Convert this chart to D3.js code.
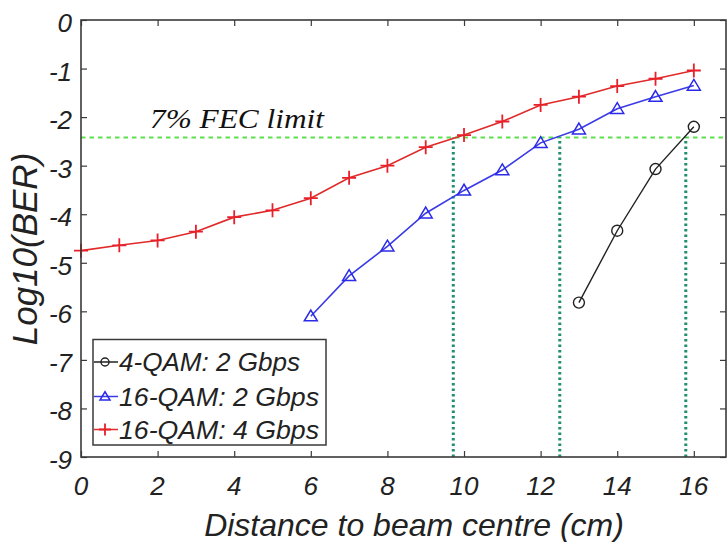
<!DOCTYPE html>
<html>
<head>
<meta charset="utf-8">
<script src="https://cdn.jsdelivr.net/npm/d3@7"></script>
<style>
  html, body { margin: 0; padding: 0; background: #fff; }
  svg { display: block; }
</style>
</head>
<body>
<svg id="chart" width="727" height="542"></svg>
<script>
// Distance from the beam centre (cm) for each measured point
const distRed = [0, 1, 2, 3, 4, 5, 6, 7, 8, 9, 10, 11, 12, 13, 14, 15, 16];
const distBlue = [6, 7, 8, 9, 10, 11, 12, 13, 14, 15, 16];
const distBlack = [13, 14, 15, 16];

// log10(BER) per series
const ber16qam4g = [-4.75, -4.64, -4.54, -4.36, -4.06, -3.92, -3.67, -3.25, -3.0, -2.62, -2.37, -2.09, -1.75, -1.58, -1.36, -1.21, -1.04];
const ber16qam2g = [-6.1, -5.27, -4.66, -3.98, -3.51, -3.09, -2.53, -2.25, -1.83, -1.58, -1.35];
const ber4qam2g = [-5.82, -4.34, -3.07, -2.2];

const seriesNames = ["4-QAM: 2 Gbps", "16-QAM: 2 Gbps", "16-QAM: 4 Gbps"];

// Forward-error-correction threshold and the distances where each curve crosses it
const fecLimit = -2.42;
const fecCrossings = [9.72, 12.5, 15.79];

const xTicks = [0, 2, 4, 6, 8, 10, 12, 14, 16];
const yTicks = [0, -1, -2, -3, -4, -5, -6, -7, -8, -9];

const svg = d3.select("#chart");
const plotL = 81, plotR = 726, plotT = 20, plotB = 457;

const x = d3.scaleLinear().domain([0, 16.84]).range([plotL, plotR]);
const y = d3.scaleLinear().domain([-9, 0]).range([plotB, plotT]);

const axisColor = "#3a3a3a";
const tickFont = "Liberation Sans, Arial, sans-serif";

// FEC threshold (horizontal dashed line)
svg.append("line")
  .attr("x1", x(0)).attr("x2", plotR)
  .attr("y1", y(fecLimit)).attr("y2", y(fecLimit))
  .attr("stroke", "#5ee04e").attr("stroke-width", 2)
  .attr("stroke-dasharray", "4.5,4");

// Vertical dotted markers at the FEC crossings
svg.selectAll(".vline").data(fecCrossings).enter().append("line")
  .attr("class", "vline")
  .attr("x1", d => x(d)).attr("x2", d => x(d))
  .attr("y1", y(-9)).attr("y2", y(fecLimit))
  .attr("stroke", "#1f8f70").attr("stroke-width", 3)
  .attr("stroke-dasharray", "2.5,3");

svg.append("text")
  .attr("x", 150).attr("y", 128)
  .attr("font-family", "Liberation Serif, Times New Roman, serif")
  .attr("font-style", "italic")
  .attr("font-size", 27)
  .attr("fill", "#111")
  .attr("textLength", 174)
  .attr("lengthAdjust", "spacingAndGlyphs")
  .text("7% FEC limit");

// Series
const line = d3.line().x(d => x(d[0])).y(d => y(d[1]));

const red = d3.zip(distRed, ber16qam4g);
const blue = d3.zip(distBlue, ber16qam2g);
const black = d3.zip(distBlack, ber4qam2g);

svg.append("path").datum(red).attr("d", line)
  .attr("fill", "none").attr("stroke", "#e02a2a").attr("stroke-width", 1.6);
svg.append("path").datum(blue).attr("d", line)
  .attr("fill", "none").attr("stroke", "#3a3ae8").attr("stroke-width", 1.6);
svg.append("path").datum(black).attr("d", line)
  .attr("fill", "none").attr("stroke", "#222").attr("stroke-width", 1.4);

function plus(g, cx, cy, s, color) {
  g.append("path")
    .attr("d", `M${cx - s},${cy}H${cx + s}M${cx},${cy - s}V${cy + s}`)
    .attr("stroke", color).attr("stroke-width", 1.8).attr("fill", "none");
}
function tri(g, cx, cy, s, color) {
  const h = s * 0.95;
  g.append("path")
    .attr("d", `M${cx},${cy - h}L${cx + s},${cy + h * 0.75}L${cx - s},${cy + h * 0.75}Z`)
    .attr("stroke", color).attr("stroke-width", 1.5).attr("fill", "none");
}
function circ(g, cx, cy, r, color) {
  g.append("circle").attr("cx", cx).attr("cy", cy).attr("r", r)
    .attr("stroke", color).attr("stroke-width", 1.4).attr("fill", "none");
}

const marks = svg.append("g");
red.forEach(d => plus(marks, x(d[0]), y(d[1]), 7, "#e8202a"));
blue.forEach(d => tri(marks, x(d[0]), y(d[1]), 6.5, "#2a2ae8"));
black.forEach(d => circ(marks, x(d[0]), y(d[1]), 5.5, "#222"));

// Axes box with inward ticks on all four sides
const axes = svg.append("g");
const bAxis = d3.axisBottom(x).tickValues(xTicks).tickSize(-6).tickFormat("");
const tAxis = d3.axisTop(x).tickValues(xTicks).tickSize(-6).tickFormat("");
const lAxis = d3.axisLeft(y).tickValues(yTicks).tickSize(-6).tickFormat("");
const rAxis = d3.axisRight(y).tickValues(yTicks).tickSize(-6).tickFormat("");

axes.append("g").attr("transform", `translate(0,${plotB})`).call(bAxis);
axes.append("g").attr("transform", `translate(0,${plotT})`).call(tAxis);
axes.append("g").attr("transform", `translate(${plotL},0)`).call(lAxis);
axes.append("g").attr("transform", `translate(${plotR},0)`).call(rAxis);
axes.selectAll(".domain").remove();
axes.selectAll(".tick line").attr("stroke", axisColor).attr("stroke-width", 1.2);
axes.append("rect").attr("x", plotL).attr("y", plotT)
  .attr("width", plotR - plotL).attr("height", plotB - plotT)
  .attr("fill", "none").attr("stroke", axisColor).attr("stroke-width", 1.6);

// Tick labels
svg.selectAll(".xl").data(xTicks).enter().append("text")
  .attr("x", d => x(d)).attr("y", 495)
  .attr("text-anchor", "middle")
  .attr("font-family", tickFont).attr("font-style", "italic")
  .attr("font-size", 26).attr("fill", "#222")
  .text(d => d);

svg.selectAll(".yl").data(yTicks).enter().append("text")
  .attr("x", 72).attr("y", d => y(d) + 12)
  .attr("text-anchor", "end")
  .attr("font-family", tickFont).attr("font-style", "italic")
  .attr("font-size", 26).attr("fill", "#222")
  .text(d => d);

// Axis titles
svg.append("text")
  .attr("x", 414).attr("y", 536)
  .attr("text-anchor", "middle")
  .attr("font-family", tickFont).attr("font-style", "italic")
  .attr("font-size", 32).attr("fill", "#222")
  .text("Distance to beam centre (cm)");

svg.append("text")
  .attr("transform", "translate(37,249) rotate(-90)")
  .attr("text-anchor", "middle")
  .attr("font-family", tickFont).attr("font-style", "italic")
  .attr("font-size", 35).attr("fill", "#222")
  .text("Log10(BER)");

// Legend
const lg = svg.append("g");
lg.append("rect").attr("x", 93).attr("y", 339.5).attr("width", 233).attr("height", 105.5)
  .attr("fill", "#fff").attr("stroke", axisColor).attr("stroke-width", 1.5);
const legendColors = ["#222", "#3a3ae8", "#e02a2a"];
const legendMarkColors = ["#222", "#2a2ae8", "#e8202a"];
const legendY = [362, 396.5, 429.5];
seriesNames.forEach((name, i) => {
  const cy = legendY[i];
  lg.append("line").attr("x1", 94).attr("x2", 118).attr("y1", cy).attr("y2", cy)
    .attr("stroke", legendColors[i]).attr("stroke-width", 1.5);
  if (i === 0) circ(lg, 105, cy, 4, legendMarkColors[i]);
  if (i === 1) tri(lg, 105, cy, 5, legendMarkColors[i]);
  if (i === 2) plus(lg, 105, cy, 6, legendMarkColors[i]);
  lg.append("text").attr("x", 119).attr("y", cy + 9)
    .attr("font-family", tickFont).attr("font-style", "italic")
    .attr("font-size", 25).attr("fill", "#222")
    .attr("textLength", name.startsWith("4") ? 181 : 200)
    .attr("lengthAdjust", "spacingAndGlyphs")
    .text(name);
});
</script>
</body>
</html>
